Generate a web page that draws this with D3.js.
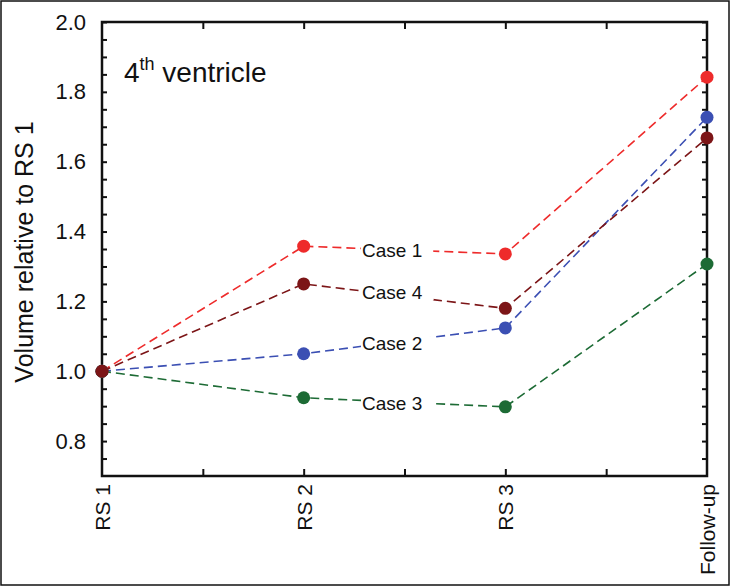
<!DOCTYPE html>
<html><head><meta charset="utf-8">
<script src="https://cdn.jsdelivr.net/npm/d3@7"></script>
<style>body{margin:0;background:#fff}svg{display:block}text{font-family:Arial,"Liberation Sans",sans-serif}</style>
</head><body>
<svg id="c" width="730" height="586"></svg>
<script>
const categories = ["RS 1", "RS 2", "RS 3", "Follow-up"];
const yTicks = [0.8, 1.0, 1.2, 1.4, 1.6, 1.8, 2.0];
const case1 = [1.0, 1.358, 1.336, 1.842];
const case2 = [1.0, 1.05, 1.124, 1.727];
const case3 = [1.0, 0.924, 0.898, 1.307];
const case4 = [1.0, 1.25, 1.18, 1.668];
const seriesNames = ["Case 1", "Case 2", "Case 3", "Case 4"];
const seriesColors = ["#ee2b2b", "#3b4fb3", "#1d6b35", "#7c1517"];
const labelY = [1.348, 1.08, 0.91, 1.225];

const series = [case1, case2, case3, case4].map((v, i) => ({name: seriesNames[i], values: v, color: seriesColors[i], ly: labelY[i]}));

const svg = d3.select("#c");
const L = 102, R = 707, T = 22, B = 476;
svg.append("rect").attr("x", 1).attr("y", 1).attr("width", 728).attr("height", 584)
  .attr("fill", "none").attr("stroke", "#111").attr("stroke-width", 1.5);

const x = d3.scalePoint().domain(categories).range([L, R]);
const xm = d3.scaleLinear().domain([0, 6]).range([L, R]);
const y = d3.scaleLinear().domain([0.7, 2.0]).range([B, T]);

const minorY = d3.range(0.75, 2.0001, 0.05).map(v => +v.toFixed(2));
const minorX = d3.range(1, 6);

// ticks inward
const g = svg.append("g");
g.append("g").attr("transform", `translate(${L},0)`)
  .call(d3.axisRight(y).tickValues(minorY).tickSize(5).tickFormat(""))
  .call(s => s.select(".domain").remove());
g.append("g").attr("transform", `translate(${R},0)`)
  .call(d3.axisLeft(y).tickValues(minorY).tickSize(5).tickFormat(""))
  .call(s => s.select(".domain").remove());
g.append("g").attr("transform", `translate(0,${B})`)
  .call(d3.axisTop(xm).tickValues(minorX).tickSize(7).tickFormat(""))
  .call(s => s.select(".domain").remove());
g.append("g").attr("transform", `translate(0,${T})`)
  .call(d3.axisBottom(xm).tickValues(minorX).tickSize(7).tickFormat(""))
  .call(s => s.select(".domain").remove());
g.selectAll(".tick line").attr("stroke", "#111").attr("stroke-width", 2);

// y labels
const yl = svg.append("g").attr("transform", `translate(${L},0)`)
  .call(d3.axisLeft(y).tickValues(yTicks).tickSize(0).tickPadding(16).tickFormat(d3.format(".1f")));
yl.select(".domain").remove();
yl.selectAll("text").attr("font-size", 22).attr("fill", "#111").attr("font-family", "Arial, Liberation Sans, sans-serif");

// x labels
const xl = svg.append("g").attr("transform", `translate(0,${B})`)
  .call(d3.axisBottom(x).tickSize(0).tickPadding(0));
xl.select(".domain").remove();
xl.selectAll("text").attr("font-size", 21).attr("fill", "#111")
  .attr("font-family", "Arial, Liberation Sans, sans-serif")
  .attr("text-anchor", "end").attr("dy", "0.36em")
  .attr("transform", "translate(0,8) rotate(-90)");

// y title
svg.append("text").attr("transform", `translate(33,252) rotate(-90)`)
  .attr("text-anchor", "middle").attr("font-size", 25).attr("fill", "#111")
  .text("Volume relative to RS 1");

// chart title
const tt = svg.append("text").attr("x", 124).attr("y", 82).attr("font-size", 28).attr("fill", "#111");
tt.append("tspan").text("4");
tt.append("tspan").attr("font-size", 18).attr("dy", -12).text("th");
tt.append("tspan").attr("dy", 12).text(" ventricle");

// lines
const line = d3.line().x((d, i) => x(categories[i])).y(d => y(d));
series.forEach(s => {
  svg.append("path").attr("d", line(s.values)).attr("fill", "none")
    .attr("stroke", s.color).attr("stroke-width", 1.6).attr("stroke-dasharray", "9,5");
});

// labels with white background
series.forEach(s => {
  const t = svg.append("text").attr("x", 362).attr("y", y(s.ly)).attr("dy", "0.36em")
    .attr("font-size", 19).attr("fill", "#111").text(s.name);
  const bb = t.node().getBBox();
  svg.insert("rect", () => t.node()).attr("x", bb.x - 1).attr("y", bb.y + 3).attr("width", bb.width + 12)
    .attr("height", bb.height - 6).attr("fill", "#fff");
});

// frame
svg.append("rect").attr("x", L).attr("y", T).attr("width", R - L).attr("height", B - T)
  .attr("fill", "none").attr("stroke", "#111").attr("stroke-width", 2.5);

// points
series.forEach(s => {
  svg.append("g").selectAll("circle").data(s.values).join("circle")
    .attr("cx", (d, i) => x(categories[i])).attr("cy", d => y(d)).attr("r", 6.5)
    .attr("fill", s.color);
});
</script>
</body></html>
